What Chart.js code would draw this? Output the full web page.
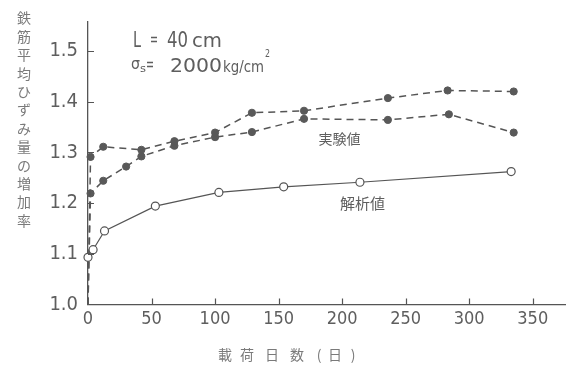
<!DOCTYPE html>
<html>
<head>
<meta charset="utf-8">
<script src="https://cdn.jsdelivr.net/npm/chart.js@4/dist/chart.umd.min.js"></script>
<style>
  html, body { margin: 0; padding: 0; background: #ffffff; }
  canvas { display: block; }
</style>
</head>
<body>
<canvas id="chart" width="571" height="370"></canvas>
<script>
// Loading days and strain-increase ratios
const expADays   = [0, 2, 12, 42, 68, 100, 129, 170, 236, 283, 335];
const expAValues = [1.0, 1.291, 1.311, 1.305, 1.322, 1.339, 1.378, 1.382, 1.407, 1.422, 1.420];

const expBDays   = [0, 2, 12, 30, 42, 68, 100, 129, 170, 236, 284, 335];
const expBValues = [1.0, 1.219, 1.244, 1.272, 1.292, 1.313, 1.330, 1.340, 1.366, 1.364, 1.375, 1.339];

const anaDays    = [0, 4, 13, 53, 103, 154, 214, 333];
const anaValues  = [1.093, 1.108, 1.145, 1.194, 1.221, 1.232, 1.241, 1.262];

const xTicks = [0, 50, 100, 150, 200, 250, 300, 350];
const yTicks = [1.0, 1.1, 1.2, 1.3, 1.4, 1.5];

const yTitle = '鉄筋平均ひずみ量の増加率';
const xTitle = ['載', '荷', '日', '数', '(', '日', ')'];
const expLabel = '実験値';
const anaLabel = '解析値';

const NUM_FONT = '"Liberation Sans Narrow", "DejaVu Sans Condensed", "Liberation Sans", sans-serif';
const JP_FONT = '"Noto Sans CJK JP", "Noto Sans", sans-serif';
const INK = '#555555';
const TEXT = '#5e5e5e';

const pts = (xs, ys) => xs.map((x, i) => ({ x: x, y: ys[i] }));
const radii = (xs, r) => xs.map((x, i) => (i === 0 && x === 0 ? 0 : r));

// Draw text squeezed/stretched horizontally into [left, right]
function drawFit(ctx, text, left, right, baseline, font, color) {
  ctx.save();
  ctx.font = font;
  ctx.fillStyle = color;
  ctx.textAlign = 'left';
  ctx.textBaseline = 'alphabetic';
  const w = ctx.measureText(text).width;
  const sx = (right - left) / w;
  ctx.translate(left, baseline);
  ctx.scale(sx, 1);
  ctx.fillText(text, 0, 0);
  ctx.restore();
}

const decorations = {
  id: 'decorations',
  afterDatasetsDraw(chart) {
    const ctx = chart.ctx;
    const xs = chart.scales.x, ys = chart.scales.y;
    const area = chart.chartArea;

    // inward tick marks
    ctx.save();
    ctx.strokeStyle = INK;
    ctx.lineWidth = 1.2;
    ctx.beginPath();
    xTicks.forEach(v => {
      if (v === 0) return;
      const px = Math.round(xs.getPixelForValue(v)) + 0.5;
      ctx.moveTo(px, area.bottom);
      ctx.lineTo(px, area.bottom - 6);
    });
    yTicks.forEach(v => {
      if (v === 1.0) return;
      const py = Math.round(ys.getPixelForValue(v)) + 0.5;
      ctx.moveTo(area.left, py);
      ctx.lineTo(area.left + 6, py);
    });
    ctx.stroke();
    ctx.restore();

    // parameter block
    drawFit(ctx, 'L', 133, 141, 47, '21px ' + NUM_FONT, TEXT);
    drawFit(ctx, '=', 150, 158, 45, '18px ' + NUM_FONT, TEXT);
    drawFit(ctx, '40', 167, 188, 47, '21px ' + NUM_FONT, TEXT);
    drawFit(ctx, 'cm', 192, 222, 47, '20px ' + NUM_FONT, TEXT);

    drawFit(ctx, 'σ', 131, 140, 69, '15px "DejaVu Sans", sans-serif', TEXT);
    drawFit(ctx, 's', 140, 146, 72, '11px "DejaVu Sans", sans-serif', TEXT);
    drawFit(ctx, '=', 146, 154, 70, '18px ' + NUM_FONT, TEXT);
    drawFit(ctx, '2000', 170, 222, 72, '20px ' + NUM_FONT, TEXT);
    drawFit(ctx, 'kg/cm', 223, 264, 72, '15px ' + NUM_FONT, TEXT);
    drawFit(ctx, '2', 265, 270, 57, '10px ' + NUM_FONT, TEXT);

    // series labels, anchored in data space
    ctx.save();
    ctx.font = '14px ' + JP_FONT;
    ctx.fillStyle = TEXT;
    ctx.textAlign = 'center';
    ctx.textBaseline = 'middle';
    ctx.fillText(expLabel, xs.getPixelForValue(198), ys.getPixelForValue(1.327));
    ctx.font = '15px ' + JP_FONT;
    ctx.fillText(anaLabel, xs.getPixelForValue(216), ys.getPixelForValue(1.199));
    ctx.restore();

    // axis titles
    ctx.save();
    ctx.font = '14px ' + JP_FONT;
    ctx.fillStyle = '#7a7a7a';
    ctx.textAlign = 'center';
    ctx.textBaseline = 'middle';
    Array.from(yTitle).forEach((ch, i) => {
      ctx.fillText(ch, 24, 18 + i * 18.4);
    });
    const xCenters = [225, 247, 272, 297, 319, 335, 353];
    xTitle.forEach((ch, i) => {
      ctx.fillText(ch, xCenters[i], 355);
    });
    ctx.restore();
  }
};

new Chart(document.getElementById('chart'), {
  type: 'line',
  data: {
    datasets: [
      {
        label: anaLabel,
        data: pts(anaDays, anaValues),
        borderColor: INK,
        borderWidth: 1.2,
        pointRadius: 4,
        pointBackgroundColor: '#ffffff',
        pointBorderColor: INK,
        pointBorderWidth: 1.2,
        tension: 0
      },
      {
        label: expLabel + ' A',
        data: pts(expADays, expAValues),
        borderColor: INK,
        borderWidth: 1.5,
        borderDash: [7, 5],
        pointRadius: radii(expADays, 3.6),
        pointBackgroundColor: '#595959',
        pointBorderColor: '#595959',
        pointBorderWidth: 1,
        tension: 0
      },
      {
        label: expLabel + ' B',
        data: pts(expBDays, expBValues),
        borderColor: INK,
        borderWidth: 1.5,
        borderDash: [7, 5],
        pointRadius: radii(expBDays, 3.6),
        pointBackgroundColor: '#595959',
        pointBorderColor: '#595959',
        pointBorderWidth: 1,
        tension: 0
      }
    ]
  },
  options: {
    responsive: false,
    animation: false,
    devicePixelRatio: 1,
    clip: false,
    layout: { padding: { left: 0, right: 0, top: 15, bottom: 0 } },
    plugins: { legend: { display: false }, tooltip: { enabled: false } },
    scales: {
      x: {
        type: 'linear',
        min: 0,
        max: 376,
        grid: { display: false, drawTicks: false },
        border: { display: true, color: INK, width: 1.3 },
        afterBuildTicks: s => { s.ticks = xTicks.map(v => ({ value: v })); },
        afterFit: s => { s.height = 65.5; },
        ticks: {
          padding: 4,
          color: TEXT,
          font: { family: NUM_FONT, size: 18 },
          maxRotation: 0,
          autoSkip: false
        }
      },
      y: {
        type: 'linear',
        min: 1.0,
        max: 1.557,
        grid: { display: false, drawTicks: false },
        border: { display: true, color: INK, width: 1.3 },
        afterBuildTicks: s => { s.ticks = yTicks.map(v => ({ value: v })); },
        afterFit: s => { s.width = 88; },
        ticks: {
          padding: 10,
          color: TEXT,
          font: { family: NUM_FONT, size: 20 },
          callback: v => v.toFixed(1)
        }
      }
    }
  },
  plugins: [decorations]
});
</script>
</body>
</html>
